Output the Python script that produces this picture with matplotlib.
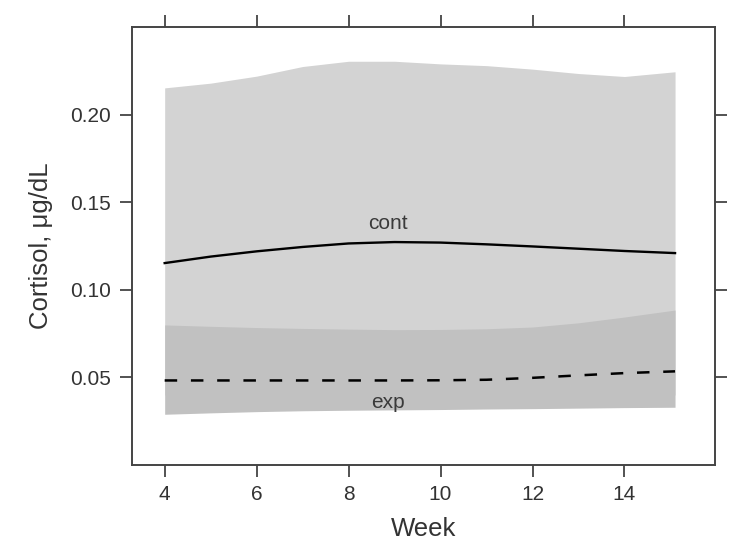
import matplotlib
matplotlib.use("Agg")
import matplotlib.pyplot as plt

week = [4, 5, 6, 7, 8, 9, 10, 11, 12, 13, 14, 15.1]

# cont group: fitted curve and band
cont_fit = [0.1153, 0.1190, 0.1220, 0.1245, 0.1265, 0.1273, 0.1270, 0.1260, 0.1248, 0.1235, 0.1222, 0.1210]
cont_hi = [0.2153, 0.2180, 0.2220, 0.2275, 0.2305, 0.2305, 0.2290, 0.2280, 0.2260, 0.2235, 0.2218, 0.2245]
cont_lo = [0.0400, 0.0400, 0.0400, 0.0400, 0.0400, 0.0400, 0.0400, 0.0400, 0.0400, 0.0400, 0.0400, 0.0400]

# exp group
exp_fit = [0.0483, 0.0483, 0.0483, 0.0483, 0.0483, 0.0483, 0.0484, 0.0487, 0.0498, 0.0512, 0.0525, 0.0535]
exp_hi = [0.0800, 0.0792, 0.0785, 0.0780, 0.0776, 0.0773, 0.0774, 0.0778, 0.0788, 0.0812, 0.0845, 0.0885]
exp_lo = [0.0290, 0.0298, 0.0305, 0.0310, 0.0313, 0.0315, 0.0317, 0.0320, 0.0322, 0.0325, 0.0328, 0.0330]

xticks = [4, 6, 8, 10, 12, 14]
yticks = [0.05, 0.10, 0.15, 0.20]
ytick_labels = ["0.05", "0.10", "0.15", "0.20"]

plt.rcParams["font.family"] = ["Liberation Sans", "DejaVu Sans"]

fig = plt.figure(figsize=(7.38, 5.53), dpi=100)
ax = fig.add_axes([0.1789, 0.159, 0.7900, 0.7920])

ax.fill_between(week, cont_lo, cont_hi, color="#d3d3d3", lw=0)
ax.fill_between(week, exp_lo, exp_hi, color="#c1c1c1", lw=0)
ax.plot(week, cont_fit, color="black", lw=1.7)
ax.plot(week, exp_fit, color="black", lw=1.8, dashes=(5, 5.5))

ax.text(8.86, 0.138, "cont", ha="center", va="center", fontsize=15, color="#3a3a3a")
ax.text(8.86, 0.0355, "exp", ha="center", va="center", fontsize=15, color="#3a3a3a")

ax.set_xlim(3.29, 15.97)
ax.set_ylim(0, 0.25)
ax.set_xticks(xticks)
ax.set_yticks(yticks)
ax.set_yticklabels(ytick_labels)

for s in ax.spines.values():
    s.set_color("#444444")
    s.set_linewidth(1.4)

ax.tick_params(direction="out", length=8.5, width=1.3, color="#444444",
               labelsize=15, labelcolor="#333333",
               top=True, right=True, labeltop=False, labelright=False)
ax.tick_params(axis="x", pad=6)
ax.tick_params(axis="y", pad=7)

ax.set_xlabel("Week", fontsize=18.5, color="#333333", labelpad=9)
ax.set_ylabel("Cortisol, \u03bcg/dL", fontsize=18.5, color="#333333", labelpad=12)

fig.savefig("out.png", dpi=100)
